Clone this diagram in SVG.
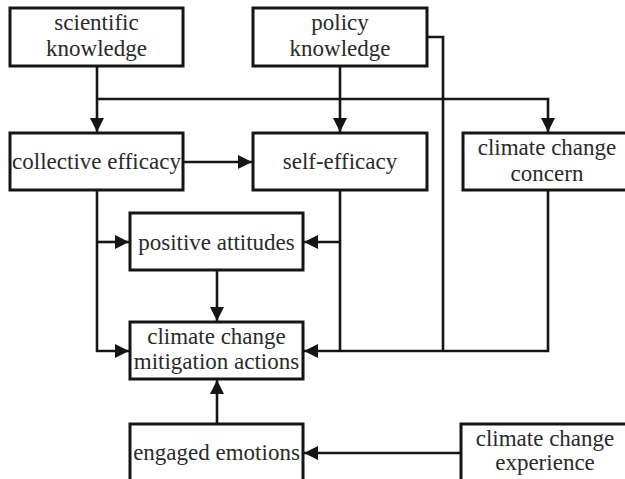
<svg xmlns="http://www.w3.org/2000/svg" width="625" height="479" viewBox="0 0 625 479">
<defs>
<style>
.box{fill:#fff;stroke:#151515;stroke-width:3}
.lbl{font-family:"Liberation Serif","Times New Roman",serif;font-size:23px;fill:#2a2a2a;text-anchor:middle}
.con{fill:none;stroke:#151515;stroke-width:2.6}
</style>
<marker id="ah" markerUnits="userSpaceOnUse" markerWidth="16" markerHeight="16" viewBox="0 0 16 16" refX="15" refY="8" orient="auto">
<path d="M1,1 L15,8 L1,15 Z" fill="#151515"/>
</marker>
</defs>
<rect width="625" height="479" fill="#fff"/>
<g id="connectors">
<path class="con" d="M97,66 V132" marker-end="url(#ah)"/>
<path class="con" d="M97,99 H548 V132" marker-end="url(#ah)"/>
<path class="con" d="M340,66 V132" marker-end="url(#ah)"/>
<path class="con" d="M427,37 H443 V351"/>
<path class="con" d="M183,162 H252" marker-end="url(#ah)"/>
<path class="con" d="M97,190 V351 H129" marker-end="url(#ah)"/>
<path class="con" d="M97,242 H129" marker-end="url(#ah)"/>
<path class="con" d="M340,190 V351"/>
<path class="con" d="M340,242 H304" marker-end="url(#ah)"/>
<path class="con" d="M548,190 V351 H304" marker-end="url(#ah)"/>
<path class="con" d="M217,270 V321" marker-end="url(#ah)"/>
<path class="con" d="M217,424 V380" marker-end="url(#ah)"/>
<path class="con" d="M461,453 H304" marker-end="url(#ah)"/>
</g>
<g id="scientific-knowledge">
<rect class="box" x="10" y="8" width="173" height="58"/>
<text class="lbl" x="96.5" y="30">scientific</text>
<text class="lbl" x="96.5" y="56">knowledge</text>
</g>
<g id="policy-knowledge">
<rect class="box" x="253" y="8" width="174" height="58"/>
<text class="lbl" x="340" y="30">policy</text>
<text class="lbl" x="340" y="56">knowledge</text>
</g>
<g id="collective-efficacy">
<rect class="box" x="10" y="133" width="173" height="57"/>
<text class="lbl" x="96.5" y="169">collective efficacy</text>
</g>
<g id="self-efficacy">
<rect class="box" x="253" y="133" width="174" height="57"/>
<text class="lbl" x="340" y="169">self-efficacy</text>
</g>
<g id="climate-change-concern">
<rect class="box" x="463" y="133" width="170" height="57"/>
<text class="lbl" x="547" y="155">climate change</text>
<text class="lbl" x="547" y="181">concern</text>
</g>
<g id="positive-attitudes">
<rect class="box" x="130" y="213" width="173" height="57"/>
<text class="lbl" x="216.5" y="250">positive attitudes</text>
</g>
<g id="mitigation-actions">
<rect class="box" x="130" y="322" width="173" height="57"/>
<text class="lbl" x="216.5" y="344">climate change</text>
<text class="lbl" x="216.5" y="369">mitigation actions</text>
</g>
<g id="engaged-emotions">
<rect class="box" x="130" y="424" width="173" height="70"/>
<text class="lbl" x="216.5" y="460">engaged emotions</text>
</g>
<g id="climate-change-experience">
<rect class="box" x="461" y="424" width="170" height="70"/>
<text class="lbl" x="545" y="446">climate change</text>
<text class="lbl" x="545" y="470">experience</text>
</g>
</svg>
